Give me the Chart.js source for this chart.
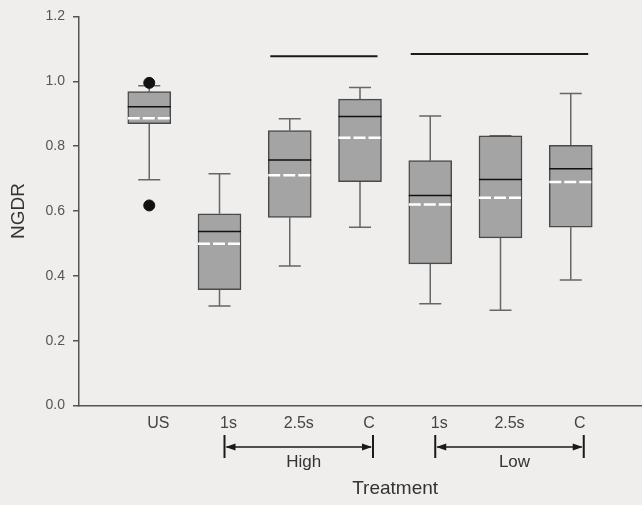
<!DOCTYPE html>
<html>
<head>
<meta charset="utf-8">
<script src="https://cdn.jsdelivr.net/npm/chart.js@4/dist/chart.umd.min.js"></script>
<style>
  html, body { margin: 0; padding: 0; background: #f0eeec; }
  #wrap { width: 642px; height: 505px; }
</style>
</head>
<body>
<div id="wrap"><canvas id="boxChart" width="642" height="505"></canvas></div>
<script>
// categories along the x axis (US, then High and Low groups)
const categories = ['US', '1s', '2.5s', 'C', '1s', '2.5s', 'C'];

// box plot values
const whiskerLow  = [0.696, 0.307, 0.430, 0.550, 0.314, 0.294, 0.387];
const q1          = [0.869, 0.357, 0.580, 0.690, 0.437, 0.517, 0.550];
const median      = [0.921, 0.537, 0.757, 0.891, 0.648, 0.697, 0.730];
const mean        = [0.886, 0.499, 0.710, 0.826, 0.620, 0.641, 0.689];
const q3          = [0.968, 0.591, 0.848, 0.945, 0.755, 0.832, 0.802];
const whiskerHigh = [0.986, 0.715, 0.884, 0.981, 0.893, 0.832, 0.962];

// outliers (category index, value)
const outlierCat = [0, 0];
const outlierVal = [0.995, 0.617];

// treatment groups under the axis
const groupNames = ['High', 'Low'];
const groupFrom = [1, 4];
const groupTo = [3, 6];

// horizontal bars above the boxes
const sigLevel = [1.077, 1.084];
const sigFrom = [2, 4];
const sigTo = [3, 6];

const yTicks = [0, 0.2, 0.4, 0.6, 0.8, 1.0, 1.2];

const FONT = '"Liberation Sans", Arial, sans-serif';

const boxExtras = {
  id: 'boxExtras',
  beforeDraw(chart) {
    const ctx = chart.ctx;
    ctx.save();
    ctx.fillStyle = '#f0eeec';
    ctx.fillRect(0, 0, chart.width, chart.height);
    ctx.restore();
  },
  beforeDatasetsDraw(chart) {
    const ctx = chart.ctx;
    const x = chart.scales.x, y = chart.scales.y;
    ctx.save();
    ctx.strokeStyle = '#666';
    ctx.lineWidth = 1.5;
    categories.forEach((c, i) => {
      const px = x.getPixelForValue(i + 1);
      const cap = 11;
      ctx.beginPath();
      ctx.moveTo(px, y.getPixelForValue(q3[i]));
      ctx.lineTo(px, y.getPixelForValue(whiskerHigh[i]));
      ctx.moveTo(px - cap, y.getPixelForValue(whiskerHigh[i]));
      ctx.lineTo(px + cap, y.getPixelForValue(whiskerHigh[i]));
      ctx.moveTo(px, y.getPixelForValue(q1[i]));
      ctx.lineTo(px, y.getPixelForValue(whiskerLow[i]));
      ctx.moveTo(px - cap, y.getPixelForValue(whiskerLow[i]));
      ctx.lineTo(px + cap, y.getPixelForValue(whiskerLow[i]));
      ctx.stroke();
    });
    ctx.restore();
  },
  afterDatasetsDraw(chart) {
    const ctx = chart.ctx;
    const y = chart.scales.y;
    const boxes = chart.getDatasetMeta(1).data;
    ctx.save();
    boxes.forEach((bar, i) => {
      const half = bar.width / 2;
      // median
      ctx.strokeStyle = '#111';
      ctx.lineWidth = 1.5;
      ctx.setLineDash([]);
      ctx.beginPath();
      ctx.moveTo(bar.x - half, y.getPixelForValue(median[i]));
      ctx.lineTo(bar.x + half, y.getPixelForValue(median[i]));
      ctx.stroke();
      // mean
      ctx.strokeStyle = '#ffffff';
      ctx.lineWidth = 2.5;
      ctx.setLineDash([12, 3]);
      ctx.beginPath();
      ctx.moveTo(bar.x - half, y.getPixelForValue(mean[i]));
      ctx.lineTo(bar.x + half, y.getPixelForValue(mean[i]));
      ctx.stroke();
    });
    ctx.setLineDash([]);
    ctx.strokeStyle = '#1a1a1a';
    ctx.lineWidth = 2;
    sigLevel.forEach((lvl, k) => {
      const a = boxes[sigFrom[k]], b = boxes[sigTo[k]];
      ctx.beginPath();
      ctx.moveTo(a.x - a.width / 2 + 2, y.getPixelForValue(lvl));
      ctx.lineTo(b.x + b.width / 2 - 4, y.getPixelForValue(lvl));
      ctx.stroke();
    });
    ctx.restore();
  },
  afterDraw(chart) {
    const ctx = chart.ctx;
    const x = chart.scales.x;
    const base = chart.chartArea.bottom;
    ctx.save();
    ctx.strokeStyle = '#1a1a1a';
    ctx.fillStyle = '#1a1a1a';
    groupNames.forEach((name, k) => {
      const x1 = x.getPixelForValue(groupFrom[k] + 1) + 5;
      const x2 = x.getPixelForValue(groupTo[k] + 1) + 13;
      const ay = base + 41.5;
      ctx.lineWidth = 2;
      ctx.beginPath();
      ctx.moveTo(x1, base + 29.5); ctx.lineTo(x1, base + 52.5);
      ctx.moveTo(x2, base + 29.5); ctx.lineTo(x2, base + 52.5);
      ctx.stroke();
      ctx.lineWidth = 1.5;
      ctx.beginPath();
      ctx.moveTo(x1 + 2, ay); ctx.lineTo(x2 - 2, ay);
      ctx.stroke();
      ctx.beginPath();
      ctx.moveTo(x1 + 1, ay); ctx.lineTo(x1 + 11, ay - 3.5); ctx.lineTo(x1 + 11, ay + 3.5);
      ctx.closePath(); ctx.fill();
      ctx.beginPath();
      ctx.moveTo(x2 - 1, ay); ctx.lineTo(x2 - 11, ay - 3.5); ctx.lineTo(x2 - 11, ay + 3.5);
      ctx.closePath(); ctx.fill();
      ctx.fillStyle = '#333';
      ctx.font = '17px ' + FONT;
      ctx.textAlign = 'center';
      ctx.textBaseline = 'middle';
      ctx.fillText(name, (x1 + x2) / 2 + 5, base + 56.5);
      ctx.fillStyle = '#1a1a1a';
    });
    ctx.fillStyle = '#333';
    ctx.font = '19px ' + FONT;
    ctx.textAlign = 'center';
    ctx.textBaseline = 'middle';
    ctx.fillText('Treatment', x.getPixelForValue(4.5), base + 83.5);
    ctx.restore();
  }
};

const ctx = document.getElementById('boxChart').getContext('2d');
new Chart(ctx, {
  type: 'bar',
  data: {
    datasets: [{
      type: 'scatter',
      data: outlierCat.map((c, i) => ({ x: c + 1, y: outlierVal[i] })),
      backgroundColor: '#111',
      borderColor: '#111',
      pointRadius: 5.5,
      showLine: false
    }, {
      type: 'bar',
      data: categories.map((c, i) => ({ x: i + 1, y: [q1[i], q3[i]] })),
      backgroundColor: '#a4a4a4',
      borderColor: '#4a4a4a',
      borderWidth: 1.5,
      borderSkipped: false,
      barThickness: 43
    }]
  },
  options: {
    responsive: false,
    animation: false,
    layout: { autoPadding: false, padding: { top: 15, right: 1, left: 0, bottom: 0 } },
    plugins: { legend: { display: false }, tooltip: { enabled: false } },
    scales: {
      x: {
        type: 'linear',
        offset: false,
        min: 0,
        max: 8,
        afterFit(scale) {
          scale.height = 99.5;
          scale.paddingLeft = 0;
          scale.paddingRight = 0;
        },
        afterBuildTicks(scale) { scale.ticks = categories.map((c, i) => ({ value: i + 1 })); },
        grid: { display: false, drawTicks: false, offset: false },
        border: { display: true, color: '#555', width: 1.5 },
        ticks: {
          callback: (v) => categories[v - 1] || '',
          color: '#444',
          font: { family: FONT, size: 16 },
          padding: 8,
          labelOffset: 9,
          maxRotation: 0,
          autoSkip: false
        }
      },
      y: {
        min: 0,
        max: 1.2,
        afterFit(scale) { scale.width = 79; },
        afterBuildTicks(scale) { scale.ticks = yTicks.map(v => ({ value: v })); },
        grid: { display: true, drawOnChartArea: false, drawTicks: true, tickLength: 6, color: '#555', lineWidth: 1.5 },
        border: { display: true, color: '#555', width: 1.5 },
        ticks: {
          callback: (v) => v.toFixed(1),
          color: '#555',
          font: { family: FONT, size: 14 },
          padding: 8
        },
        title: {
          display: true,
          text: 'NGDR',
          color: '#333',
          font: { family: FONT, size: 19 },
          padding: { top: 7, bottom: 0 }
        }
      }
    }
  },
  plugins: [boxExtras]
});
</script>
</body>
</html>
